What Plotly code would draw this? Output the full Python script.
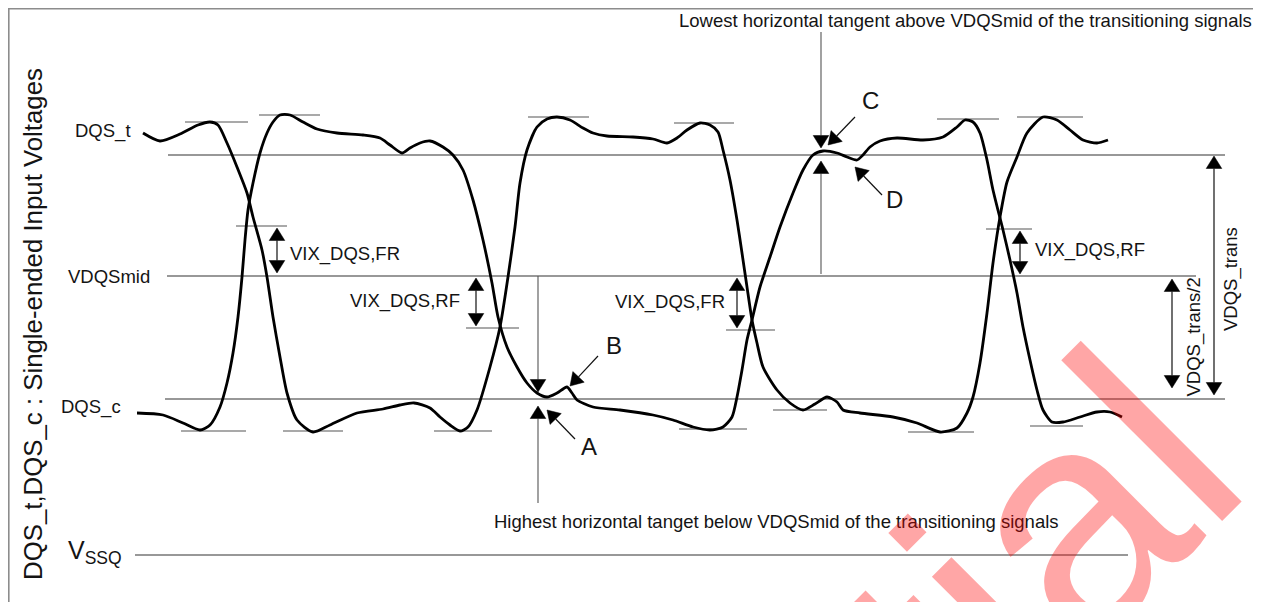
import math
import plotly.graph_objects as go

W, H = 1261, 602
OFF = 8  # page body margin: the plot area starts 8 px in from the window corner
FONT = "Liberation Sans, Arial, Helvetica, sans-serif"

# ---------------- data (diagram units = window pixels, y grows downward) ----------------
dqs_t_x = [143, 160, 180, 198, 210, 218, 227, 237, 247, 253, 262, 267, 273, 280, 287, 297, 313,
           330, 357, 383, 400, 414, 430, 440, 450, 460, 468, 477, 490, 500, 508, 515, 520, 527, 537,
           547, 557, 570, 583, 593, 607, 633, 653, 667, 677, 687, 700, 710, 718, 723, 730, 737,
           742, 747, 752, 757, 763, 777, 790, 803, 815, 827, 837, 843, 860, 893, 917, 940, 957,
           967, 973, 980, 987, 993, 1000, 1007, 1017, 1027, 1043, 1057, 1070, 1083, 1097, 1108]
dqs_t_y = [133, 141, 134, 125, 122, 125, 143, 167, 193, 217, 250, 277, 317, 357, 393, 420, 432,
           425, 413, 409, 405, 403, 408, 417, 425, 431, 427, 410, 367, 327, 277, 227, 183, 150, 127,
           119, 117, 120, 128, 133, 136, 137, 139, 143, 138, 130, 123, 125, 132, 150, 180, 220,
           253, 287, 320, 343, 367, 390, 403, 410, 404, 397, 402, 410, 413, 417, 423, 432, 428,
           413, 397, 363, 313, 263, 217, 182, 157, 133, 117, 120, 130, 140, 143, 140]

dqs_c_x = [137, 163, 183, 200, 210, 220, 227, 233, 238, 242, 245, 248, 253, 260, 267, 273, 280,
           290, 303, 317, 337, 363, 380, 390, 402, 410, 420, 430, 443, 453, 463, 473, 483, 492,
           498, 507, 517, 527, 537, 547, 557, 567, 572, 577, 593, 620, 653, 673, 693, 710, 723,
           732, 737, 742, 747, 752, 760, 770, 780, 793, 803, 813, 823, 837, 847, 857, 863, 870,
           880, 897, 923, 943, 957, 965, 973, 980, 987, 993, 1003, 1010, 1017, 1023, 1030, 1037,
           1043, 1052, 1063, 1080, 1097, 1110, 1122]
dqs_c_y = [413, 415, 423, 430, 425, 407, 383, 353, 317, 277, 240, 210, 183, 153, 133, 122, 115,
           115, 122, 129, 133, 135, 138, 145, 153, 148, 143, 141, 147, 155, 170, 200, 240, 283,
           317, 347, 367, 383, 393, 397, 393, 387, 393, 400, 407, 410, 415, 420, 427, 430, 427,
           417, 397, 370, 340, 320, 287, 257, 227, 193, 170, 155, 151, 153, 157, 160, 155, 147,
           141, 138, 140, 137, 127, 120, 122, 133, 160, 190, 230, 260, 293, 327, 360, 390,
           410, 422, 422, 417, 412, 412, 417]

# reference levels: DQS_t tangent, VDQSmid, DQS_c tangent, VSSQ
level_y = [155, 276, 399, 555]
level_x0 = [168, 167, 165, 135]
level_x1 = [1225, 1196, 1225, 1128]

# short horizontal tangents at peaks / troughs / crossing points
tan_x0 = [185, 259, 528, 674, 937, 1017, 181, 283, 434, 679, 773, 908, 1030, 236, 466, 726, 986]
tan_x1 = [248, 320, 589, 734, 999, 1083, 246, 343, 492, 747, 827, 974, 1083, 287, 519, 775, 1032]
tan_y = [122, 115, 117, 123, 119, 117, 431, 431, 431, 429, 410, 432, 426, 226, 328, 330, 229]

# single arrows (tail -> tip)
arr_tail_x = [538, 538, 821, 821, 855, 882, 598, 575]
arr_tail_y = [276, 503, 32, 274, 117, 195, 356, 439]
arr_tip_x = [538, 538, 821, 821, 828, 855, 570, 547]
arr_tip_y = [392, 406, 148, 161, 145, 167, 386, 410]
arr_gray = [True, True, True, True, False, False, False, False]

# double arrows (x, top tip, bottom tip)
dbl_x = [277, 476, 737, 1020, 1172, 1214]
dbl_y0 = [228, 278, 278, 231, 279, 156]
dbl_y1 = [273, 326, 328, 274, 388, 395]

# text labels
lab_text = ["DQS_t", "VDQSmid", "DQS_c", "V<sub>SSQ</sub>",
            "VIX_DQS,FR", "VIX_DQS,RF", "VIX_DQS,FR", "VIX_DQS,RF",
            "Highest horizontal tanget below VDQSmid of the transitioning signals",
            "Lowest horizontal tangent above VDQSmid of the transitioning signals",
            "A", "B", "C", "D", "VDQS_trans", "VDQS_trans/2",
            "DQS_t,DQS_c : Single-ended Input Voltages"]
lab_x = [133, 152, 123, 66, 288, 462, 727, 1033, 492, 677, 588.5, 614, 870, 894.5, 1231, 1193, 33]
lab_y = [131, 276, 407, 552, 253.5, 301, 302, 249.5, 521, 20, 446.5, 345, 100, 199.5, 279, 337.5, 324]
lab_anchor = ["right", "right", "right", "left", "left", "right", "right", "left", "left", "left",
              "center", "center", "center", "center", "center", "center", "center"]
lab_size = [18.5, 18.5, 18.5, 25, 18.5, 18.5, 18.5, 18.5, 18.5, 18.5, 24, 24, 24, 24, 18.5, 18.5, 25.8]
lab_angle = [0, 0, 0, 0, 0, 0, 0, 0, 0, 0, 0, 0, 0, 0, -90, -90, -90]

frame_x = [1270, 8.8, 8.8]
frame_y = [8.8, 8.8, 612]

watermark_text = "Confidential"
watermark_center = (593, 996)

# ---------------- figure ----------------
fig = go.Figure()

fig.add_trace(go.Scatter(x=frame_x, y=frame_y, mode="lines",
                         line=dict(color="#8c8c8c", width=1.6), hoverinfo="skip"))

lx, ly = [], []
for x0, x1, y in zip(level_x0, level_x1, level_y):
    lx += [x0, x1, None]
    ly += [y, y, None]
fig.add_trace(go.Scatter(x=lx, y=ly, mode="lines", line=dict(color="#333333", width=1.1),
                         hoverinfo="skip"))

tx, ty = [], []
for x0, x1, y in zip(tan_x0, tan_x1, tan_y):
    tx += [x0, x1, None]
    ty += [y, y, None]
fig.add_trace(go.Scatter(x=tx, y=ty, mode="lines", line=dict(color="#555555", width=1.1),
                         hoverinfo="skip"))

for xs, ys in [(dqs_t_x, dqs_t_y), (dqs_c_x, dqs_c_y)]:
    fig.add_trace(go.Scatter(x=xs, y=ys, mode="lines",
                             line=dict(color="black", width=2.8, shape="spline", smoothing=0.7),
                             hoverinfo="skip"))


def head(tipx, tipy, fromx, fromy, L=12.5, hw=7.8):
    dx, dy = tipx - fromx, tipy - fromy
    n = math.hypot(dx, dy)
    ux, uy = dx / n, dy / n
    bx, by = tipx - ux * L, tipy - uy * L
    px, py = -uy, ux
    return ([tipx, bx + px * hw, bx - px * hw, tipx, None],
            [tipy, by + py * hw, by - py * hw, tipy, None], (bx, by))


shaft_g_x, shaft_g_y, shaft_k_x, shaft_k_y = [], [], [], []
hx, hy = [], []
for sx, sy, ex, ey, g in zip(arr_tail_x, arr_tail_y, arr_tip_x, arr_tip_y, arr_gray):
    a, b, base = head(ex, ey, sx, sy)
    hx += a
    hy += b
    if g:
        shaft_g_x += [sx, base[0], None]
        shaft_g_y += [sy, base[1], None]
    else:
        shaft_k_x += [sx, base[0], None]
        shaft_k_y += [sy, base[1], None]

for x, y0, y1 in zip(dbl_x, dbl_y0, dbl_y1):
    a, b, base0 = head(x, y0, x, y1)
    hx += a
    hy += b
    a, b, base1 = head(x, y1, x, y0)
    hx += a
    hy += b
    shaft_k_x += [x, x, None]
    shaft_k_y += [base0[1], base1[1], None]

fig.add_trace(go.Scatter(x=shaft_g_x, y=shaft_g_y, mode="lines",
                         line=dict(color="#555555", width=1.1), hoverinfo="skip"))
fig.add_trace(go.Scatter(x=shaft_k_x, y=shaft_k_y, mode="lines",
                         line=dict(color="#111111", width=1.2), hoverinfo="skip"))
fig.add_trace(go.Scatter(x=hx, y=hy, mode="lines", fill="toself", fillcolor="black",
                         line=dict(color="black", width=0.5), hoverinfo="skip"))

annotations = []
for t, x, y, anc, s, ang in zip(lab_text, lab_x, lab_y, lab_anchor, lab_size, lab_angle):
    annotations.append(dict(text=t, x=x, y=y, xref="x", yref="y", showarrow=False,
                            xanchor=anc, yanchor="middle", textangle=ang,
                            font=dict(family=FONT, size=s, color="#141414")))

# watermark (partially visible, as in the reference)
annotations.append(dict(text=watermark_text,
                        x=(watermark_center[0] - OFF) / W, y=1 - (watermark_center[1] - OFF) / H,
                        xref="paper", yref="paper",
                        showarrow=False, xanchor="center", yanchor="middle", textangle=-45,
                        font=dict(family=FONT, size=314, color="rgba(255,0,0,0.35)")))

fig.update_layout(
    width=W, height=H, margin=dict(l=0, r=0, t=0, b=0),
    paper_bgcolor="white", plot_bgcolor="white", showlegend=False,
    xaxis=dict(range=[OFF, W + OFF], visible=False, fixedrange=True),
    yaxis=dict(range=[H + OFF, OFF], visible=False, fixedrange=True),
    annotations=annotations,
)

fig.write_html("out.html")
